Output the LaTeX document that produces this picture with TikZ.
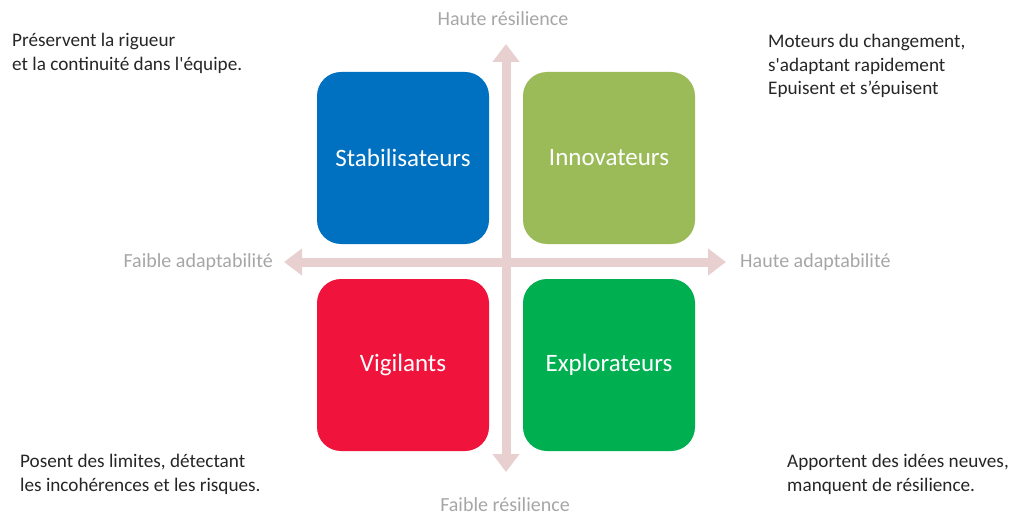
\documentclass[tikz,border=0pt]{standalone}
\usepackage{fontspec}
\setmainfont{Carlito}[Ligatures=TeXOff]
\usetikzlibrary{arrows.meta}
\definecolor{cblue}{HTML}{0070C0}
\definecolor{cgreen}{HTML}{9BBB59}
\definecolor{cred}{HTML}{F0143C}
\definecolor{cgreen2}{HTML}{00B050}
\definecolor{axis}{HTML}{E8D0D0}
\definecolor{lab}{HTML}{A6A6A6}
\definecolor{txt}{HTML}{262626}
\begin{document}
\begin{tikzpicture}[x=1pt,y=-1pt,
 box/.style={rounded corners=24pt,minimum width=172pt,minimum height=172pt,inner sep=0,text=white,font=\fontsize{25}{29}\selectfont},
 ax/.style={draw=axis,line width=9pt,{Triangle[length=18pt,width=26pt]}-{Triangle[length=18pt,width=26pt]}},
 lbl/.style={text=lab,font=\fontsize{20}{24}\selectfont,inner sep=0},
 note/.style={text=txt,font=\fontsize{19.2}{23.5}\selectfont,align=left,inner sep=0,anchor=north west}]
\useasboundingbox (0,0) rectangle (1024,529);
\node[box,fill=cblue] (s) at (403,158) {Stabilisateurs};
\node[box,fill=cgreen] (i) at (609,158) {Innovateurs};
\node[box,fill=cred] (v) at (403,365) {Vigilants};
\node[box,fill=cgreen2] (e) at (609,365) {Explorateurs};
\coordinate (t) at (506,44);
\coordinate (b) at (506,472);
\coordinate (l) at (284,262);
\coordinate (r) at (726,262);
\draw[ax] (b) -- (t);
\draw[ax] (l) -- (r);
\node[lbl] (hr) at (503,19) {Haute résilience};
\node[lbl] (fr) at (505,505) {Faible résilience};
\node[lbl,anchor=east] (fa) at (273,262) {Faible adaptabilité};
\node[lbl,anchor=west] (ha) at (740,262) {Haute adaptabilité};
\node[note] (n1) at (12,33) {Préservent la rigueur\\et la continuité dans l'équipe.};
\node[note] (n2) at (768,34) {Moteurs du changement,\\s'adaptant rapidement\\Epuisent et s’épuisent};
\node[note] (n3) at (20,454) {Posent des limites, détectant\\les incohérences et les risques.};
\node[note] (n4) at (787,454) {Apportent des idées neuves,\\manquent de résilience.};
\end{tikzpicture}
\end{document}
